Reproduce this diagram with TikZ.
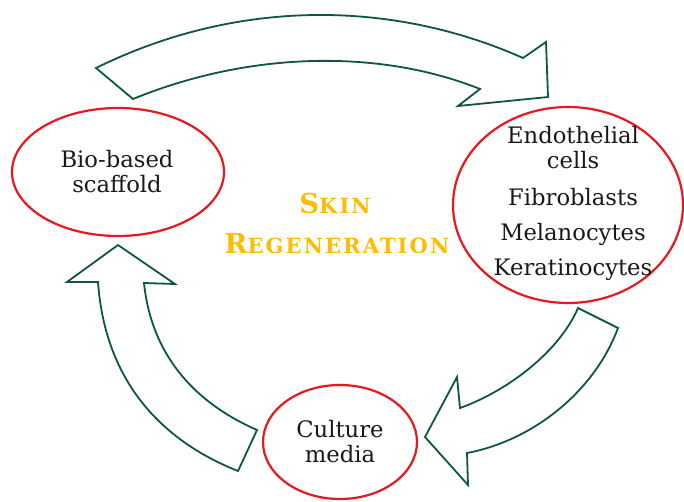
\documentclass[tikz,border=0pt]{standalone}
\usepackage{fontspec}
\setmainfont{DejaVu Serif}
\newfontfamily\titlefont[LetterSpace=10]{DejaVu Serif}
\usetikzlibrary{shapes.geometric}
\definecolor{ringred}{RGB}{232,24,30}
\definecolor{arrowgreen}{RGB}{14,88,58}
\definecolor{titlegold}{RGB}{255,188,0}
\definecolor{txtgray}{RGB}{25,25,25}
\tikzset{
  ring/.style={ellipse, draw=ringred, line width=2.2pt, inner sep=0pt},
  blockarrow/.style={draw=arrowgreen, line width=1.8pt, fill=white, line join=miter},
  label/.style={text=txtgray, font=\fontsize{22.7}{25}\selectfont, align=center, inner sep=0pt},
  titletext/.style={text=titlegold, draw=titlegold, font=\titlefont\bfseries, inner sep=0pt, anchor=base}
}
\begin{document}
\begin{tikzpicture}[x=1pt,y=-1pt]
\useasboundingbox (0,0) rectangle (684,501);

% block arrows
\draw[blockarrow] (96,68) .. controls (240,-3) and (395,1) .. (523,58)
  -- (546,42) -- (548,97) -- (458,106) -- (480,89)
  .. controls (380,49) and (250,51) .. (133,99) -- cycle;
\draw[blockarrow] (578,308) .. controls (560,350) and (510,390) .. (460,408)
  -- (457,377) -- (425,437) -- (468,485) -- (467,453)
  .. controls (535,440) and (595,390) .. (618,328) -- cycle;
\draw[blockarrow] (238,471) .. controls (160,440) and (105,380) .. (98,282)
  -- (67,282) -- (118,245) -- (175,284) -- (144,283)
  .. controls (152,360) and (200,405) .. (257,430) -- cycle;

% ellipses
\node[ring, minimum width=212pt, minimum height=128pt] (scaffold) at (118,172) {};
\node[ring, minimum width=230pt, minimum height=196pt] (cells) at (568,205) {};
\node[ring, minimum width=154pt, minimum height=114pt] (media) at (340,442) {};

% texts
\node[label] (scaffoldtext) at (117,172) {Bio-based\\scaffold};
\node[label] (cellstext) at (573,203) {Endothelial\\cells\\[12pt]Fibroblasts\\[10pt]Melanocytes\\[10pt]Keratinocytes};
\node[label] (mediatext) at (340,442) {Culture\\media};

\node[titletext, draw=none] (skin) at (335,213) {\fontsize{27.5}{27}\selectfont S\fontsize{21}{27}\selectfont KIN};
\node[titletext, draw=none] (regen) at (337,253) {\fontsize{27.5}{27}\selectfont R\fontsize{21}{27}\selectfont EGENERATION};
\end{tikzpicture}
\end{document}
